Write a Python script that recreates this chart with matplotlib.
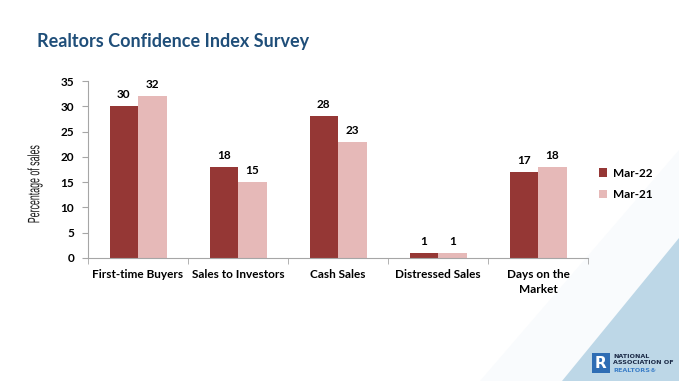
import numpy as np
import matplotlib.pyplot as plt
from matplotlib.patches import Polygon, Rectangle, PathPatch
from matplotlib.textpath import TextPath
from matplotlib.font_manager import FontProperties
from matplotlib.transforms import Affine2D, IdentityTransform

categories = ['First-time Buyers', 'Sales to Investors', 'Cash Sales',
              'Distressed Sales', 'Days on the\nMarket']
mar22 = [30, 18, 28, 1, 17]
mar21 = [32, 15, 23, 1, 18]
series_names = ['Mar-22', 'Mar-21']

c22 = '#953735'
c21 = '#E6B9B8'
title_col = '#1F4E79'
lab_font = ['Lato', 'DejaVu Sans']

W, H = 679, 381
fig = plt.figure(figsize=(W/100, H/100), dpi=100)

# background triangle in the corner
bg = fig.add_axes([0, 0, 1, 1], zorder=-10)
bg.set_xlim(0, W)
bg.set_ylim(H, 0)
bg.axis('off')
bg.add_patch(Polygon([[W, 150], [W, 238], [562, H], [480, H]], closed=True,
                     facecolor='#F9FBFD', edgecolor='none'))
bg.add_patch(Polygon([[W, 238], [W, H], [562, H]], closed=True,
                     facecolor='#BDD7E7', edgecolor='none'))
# logo
bg.add_patch(Rectangle((592, 353), 18, 20, facecolor='#2E6DB4', edgecolor='none'))
bg.text(601, 363.5, 'R', color='white', fontsize=11, fontweight='bold',
        ha='center', va='center', family='DejaVu Sans')
bg.text(613, 356, 'NATIONAL', fontsize=4.6, fontweight='bold', color='#1B2A47',
        va='center', family='DejaVu Sans')
bg.text(613, 363, 'ASSOCIATION OF', fontsize=4.6, fontweight='bold', color='#1B2A47',
        va='center', family='DejaVu Sans')
bg.text(613, 370, 'REALTORS®', fontsize=4.6, fontweight='bold', color='#3C7FC8',
        va='center', family='DejaVu Sans')

fig.text(37/W, 1-42/H, 'Realtors Confidence Index Survey', fontsize=13,
         fontweight='bold', color=title_col, va='center', ha='left', family=lab_font)

ax = fig.add_axes([88/W, 1-258/H, 500/W, 177/H])
x = np.arange(len(categories))
w = 0.285
b1 = ax.bar(x - w/2, mar22, w, color=c22, label=series_names[0])
b2 = ax.bar(x + w/2, mar21, w, color=c21, label=series_names[1])
for bars in (b1, b2):
    for r in bars:
        ax.text(r.get_x() + r.get_width()/2, r.get_height() + 1.2, f'{r.get_height():g}',
                ha='center', va='bottom', fontsize=8.5, fontweight='bold', family=lab_font)

ax.set_xlim(-0.5, len(categories) - 0.5)
ax.set_ylim(0, 35)
ax.set_yticks(np.arange(0, 36, 5))
ax.set_xticks(x)
ax.set_xticklabels(categories, fontsize=8.5, fontweight='bold', family=lab_font,
                   linespacing=1.45)
ax.set_xticks(np.arange(-0.5, len(categories), 1), minor=True)
ax.tick_params(axis='x', which='major', length=0, pad=8)
ax.tick_params(axis='x', which='minor', length=4, color='#A6A6A6')
ax.tick_params(axis='y', length=4, color='#A6A6A6', pad=6)
for t in ax.get_yticklabels():
    t.set_fontsize(8.5)
    t.set_fontweight('bold')
    t.set_family(lab_font)
for s in ['top', 'right']:
    ax.spines[s].set_visible(False)
for s in ['left', 'bottom']:
    ax.spines[s].set_color('#A6A6A6')
    ax.spines[s].set_linewidth(0.8)
ax.patch.set_alpha(0)

# condensed y label drawn as a squeezed text path
tp = TextPath((0, 0), 'Percentage of sales', size=16.5,
              prop=FontProperties(family='Liberation Sans'))
bb = tp.get_extents()
sx = 77 / bb.width
cx, cy = 35, H - 184
tr = (Affine2D().translate(-(bb.x0 + bb.width/2), -(bb.y0 + bb.height/2))
      .scale(sx, 1.0).rotate_deg(90).translate(cx, cy))
fig.add_artist(PathPatch(tr.transform_path(tp), facecolor='#1a1a1a', edgecolor='none',
                         transform=IdentityTransform()))

fig.legend(handles=[b1, b2], loc='upper left', bbox_to_anchor=(588/W, 1-157/H),
           frameon=False, prop={'family': lab_font, 'weight': 'bold', 'size': 8.5},
           handlelength=0.7, handleheight=0.7, handletextpad=0.5, labelspacing=0.9)

fig.savefig('out.png', dpi=100)
